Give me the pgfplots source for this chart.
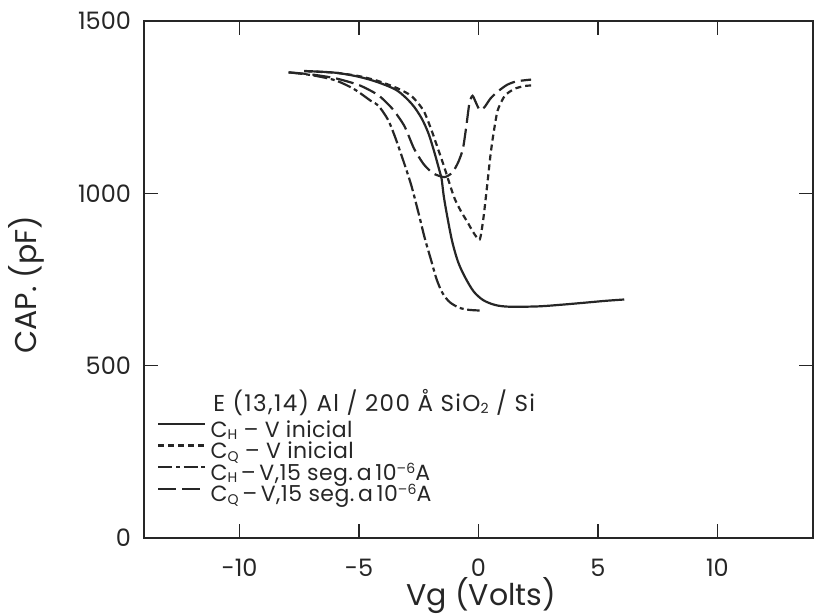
\documentclass[border=0pt]{standalone}
\usepackage{fontspec}
\setmainfont{Poppins}
\usepackage{pgfplots}
\pgfplotsset{compat=1.18}
\newcommand\sbs[1]{\raisebox{-0.12em}{\fontsize{7}{7}\selectfont #1}}
\newcommand\sps[1]{\raisebox{0.32em}{\fontsize{7}{7}\selectfont #1}}

\begin{document}
\begin{tikzpicture}
\begin{axis}[name=ax,
  scale only axis, width=334.5pt, height=258.5pt,
  xmin=-14, xmax=14, ymin=0, ymax=1500,
  xtick={-10,-5,0,5,10}, ytick={0,500,1000,1500},
  tick align=inside, major tick length=7pt,
  axis line style={line width=0.8pt, black!85},
  every tick/.style={line width=0.8pt, black!85},
  /pgf/number format/assume math mode=true,
  /pgf/number format/1000 sep={},
  ticklabel style={font=\fontsize{12}{14}\selectfont, text=black!85},
  xticklabel style={anchor=center, yshift=-15pt},
  yticklabel style={anchor=east, xshift=-3pt},
  every axis x label/.style={at={(axis description cs:0.504,-0.112)}, anchor=center},
  every axis y label/.style={at={(axis description cs:-0.176,0.49)}, anchor=center, rotate=90},
  label style={font=\fontsize{15}{18}\selectfont, text=black!85},
  xlabel={Vg (Volts)}, ylabel={CAP. (pF)},
  legend cell align=left,
  legend image code/.code={\draw[#1] (0pt,3.6pt) -- (23.5pt,3.6pt);},
  legend style={at={(axis description cs:0.0194,0.226)}, anchor=north west,
    draw=none, fill=none, inner sep=0pt, column sep=2pt, row sep=1.2pt,
    font=\fontsize{11}{12}\selectfont\addfontfeature{LetterSpace=2}, text=black!85,
    nodes={inner sep=0pt, text height=7.8pt, text depth=1.8pt}},
]
% C_H - V inicial
\addplot[black!85, line width=1.1pt, smooth, tension=0.5] coordinates {
(-7.3,1355) (-6,1350) (-5,1338) (-4.2,1322) (-3.4,1298) (-2.8,1260) (-2.4,1220)
(-2.1,1175) (-1.85,1120) (-1.65,1070) (-1.55,1045) (-1.45,990) (-1.3,930)
(-1.1,860) (-0.85,800) (-0.55,755) (-0.2,715) (0.2,690) (0.7,676) (1.3,671)
(2.5,672) (3.5,677) (4.5,683) (5.3,688) (6.1,692)};
\addlegendentry{C\sbs{H} – V inicial}
% C_Q - V inicial
\addplot[black!85, line width=1.1pt, dash pattern=on 3pt off 2pt, smooth, tension=0.4] coordinates {
(-7.2,1354) (-6,1350) (-5,1340) (-4.2,1326) (-3.4,1305) (-2.8,1282) (-2.3,1240)
(-1.95,1180) (-1.7,1130) (-1.45,1080) (-1.22,1030) (-1.0,985) (-0.75,950)
(-0.45,915) (-0.2,885) (0.05,866) (0.2,925) (0.35,1015) (0.5,1110) (0.62,1170)
(0.8,1240) (1.1,1283) (1.5,1303) (1.9,1311) (2.2,1313)};
\addlegendentry{C\sbs{Q} – V inicial}
% C_H - V, 15 seg
\addplot[black!85, line width=1.1pt, dash pattern=on 7pt off 1.8pt on 2pt off 1.8pt, smooth, tension=0.5] coordinates {
(-7.95,1351) (-7,1343) (-6,1328) (-5.2,1302) (-4.5,1268) (-4.2,1255) (-3.8,1215)
(-3.5,1165) (-3.1,1085) (-2.8,1020) (-2.5,940) (-2.25,870) (-2.0,810)
(-1.75,750) (-1.5,710) (-1.2,684) (-0.8,668) (-0.4,662) (0.05,660)};
\addlegendentry{C\sbs{H}\,–\,V,15 seg.\,a\,10\sps{–6}A}
% C_Q - V, 15 seg
\addplot[black!85, line width=1.1pt, dash pattern=on 9pt off 3pt, smooth, tension=0.4] coordinates {
(-7.95,1351) (-7,1345) (-6,1334) (-5,1314) (-4.2,1285) (-3.6,1245) (-3.1,1195)
(-2.7,1130) (-2.3,1085) (-1.9,1058) (-1.43,1047) (-1.1,1060) (-0.85,1090)
(-0.65,1130) (-0.5,1200) (-0.38,1262) (-0.25,1283) (-0.1,1262) (0.05,1242)
(0.25,1250) (0.5,1275) (0.8,1295) (1.2,1315) (1.6,1325) (2.2,1330)};
\addlegendentry{C\sbs{Q}\,–\,V,15 seg.\,a\,10\sps{–6}A}
\node[anchor=base west, font=\fontsize{11.5}{13}\selectfont\addfontfeature{LetterSpace=6}, text=black!85, inner sep=0pt]
  at (axis description cs:0.103,0.2456) {E (13,14) Al / 200 Å SiO\sbs{2} / Si};
\end{axis}
\pgfresetboundingbox
\path[use as bounding box] ([shift={(-72pt,-38.5pt)}]ax.south west) rectangle ([shift={(0.5pt,10.5pt)}]ax.north east);
\end{tikzpicture}
\end{document}
